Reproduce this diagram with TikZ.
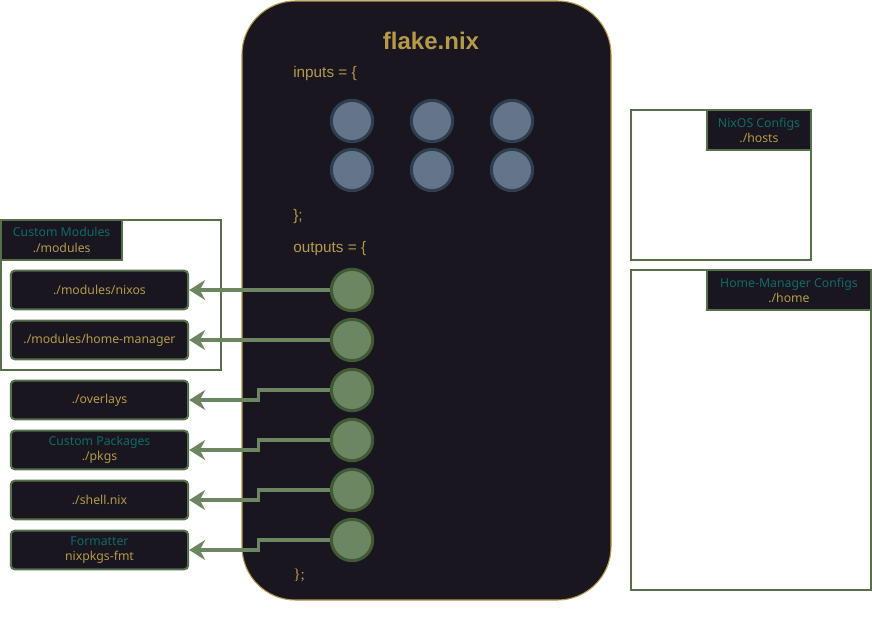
\documentclass[tikz,border=0pt]{standalone}
\usepackage{fontspec}
\setmainfont{Noto Sans}
\newfontfamily\codefont{Liberation Sans}
\newfontfamily\seriffont{Liberation Serif}
\usetikzlibrary{arrows.meta}

\definecolor{nixbg}{HTML}{19161F}
\definecolor{nixgold}{HTML}{B59A4A}
\definecolor{nixteal}{HTML}{0E6B6B}
\definecolor{nixgreen}{HTML}{56704C}
\definecolor{arrowgreen}{HTML}{6B8660}
\definecolor{outdraw}{HTML}{3F5A35}
\definecolor{infill}{HTML}{647489}
\definecolor{indraw}{HTML}{2F3F50}

\begin{document}
\begin{tikzpicture}
[x=0.75pt,y=-0.75pt,
  flakedecorate/.style={draw=nixgold,fill=nixbg,line width=0.8pt,rounded corners=40pt},%
  codedecorate/.style={text=nixgold,inner sep=0pt,anchor=west,font=\codefont\fontsize{11.5}{13}\selectfont},%
  innodedecorate/.style={shape=circle,inner sep=0pt,minimum size=31pt,draw=indraw,fill=infill,line width=2.3pt},%
  outnodedecorate/.style={shape=circle,inner sep=0pt,minimum size=31pt,draw=outdraw,fill=arrowgreen,line width=2.3pt},%
  boxdecorate/.style={draw=nixgreen,fill=nixbg,line width=1.5pt,rounded corners=3pt,text=nixgold,
    minimum width=133pt,minimum height=29pt,inner sep=0pt,align=center,font=\fontsize{9.2}{11.4}\selectfont},%
  groupdecorate/.style={draw=nixgreen,fill=white,line width=1.5pt,inner sep=0pt},%
  headdecorate/.style={draw=nixgreen,fill=nixbg,line width=1.5pt,text=nixgold,minimum height=30pt,
    inner sep=0pt,align=center,font=\fontsize{9.2}{11.4}\selectfont},%
  arrowdecorate/.style={draw=arrowgreen,line width=2.3pt,-{Stealth[length=12pt,width=15pt,inset=4pt]}}]
\useasboundingbox (0,0) rectangle (872,631);

%% the flake itself
\draw[flakedecorate] (242,1) rectangle (611,600);
\node (title) at (431,41) [text=nixgold,font=\codefont\bfseries\fontsize{18}{20}\selectfont] {flake.nix};
\node (inputs) at (293,74) [codedecorate] {inputs = \{};
\node (inputsend) at (293,217) [codedecorate] {\};};
\node (outputs) at (293,249) [codedecorate] {outputs = \{};
\node (outputsend) at (293,575) [codedecorate,font=\seriffont\fontsize{11.5}{13}\selectfont] {\};};

%% inputs
\foreach \nodename/\x/\y in {in1/352/121, in2/432/121, in3/512/121,
  in4/352/170, in5/432/170, in6/512/170}
{
  \node (\nodename) at (\x,\y) [innodedecorate] {};
}

%% groups
\node (modgroup) at (111,295) [groupdecorate,minimum width=165pt,minimum height=112.5pt] {};
\node (modhead) at (modgroup.north west) [headdecorate,anchor=north west,minimum width=91pt]
  {\textcolor{nixteal}{Custom Modules}\\./modules};
\node (hostgroup) at (721,185) [groupdecorate,minimum width=135pt,minimum height=112.5pt] {};
\node (hosthead) at (hostgroup.north east) [headdecorate,anchor=north east,minimum width=78pt]
  {\textcolor{nixteal}{NixOS Configs}\\./hosts};
\node (homegroup) at (751,430) [groupdecorate,minimum width=180pt,minimum height=240pt] {};
\node (homehead) at (homegroup.north east) [headdecorate,anchor=north east,minimum width=123pt]
  {\textcolor{nixteal}{Home-Manager Configs}\\./home};

%% output targets
\node (nixos) at (99.5,290) [boxdecorate] {./modules/nixos};
\node (homemanager) at (99.5,340) [boxdecorate] {./modules/home-manager};
\node (overlays) at (99.5,400) [boxdecorate] {./overlays};
\node (pkgs) at (99.5,450) [boxdecorate] {\textcolor{nixteal}{Custom Packages}\\./pkgs};
\node (shell) at (99.5,500) [boxdecorate] {./shell.nix};
\node (formatter) at (99.5,550) [boxdecorate] {\textcolor{nixteal}{Formatter}\\nixpkgs-fmt};

%% outputs
\foreach \nodename/\y in {out1/290, out2/340, out3/390, out4/440, out5/490, out6/540}
{
  \node (\nodename) at (352,\y) [outnodedecorate] {};
}

%% edges
\draw[arrowdecorate] (out1.west) -- (nixos.east);
\draw[arrowdecorate] (out2.west) -- (homemanager.east);
\foreach \startnode/\endnode in {out3/overlays, out4/pkgs, out5/shell, out6/formatter}
{
  \draw[arrowdecorate] (\startnode.west) -- ++(-71,0) |- (\endnode.east);
}
\end{tikzpicture}
\end{document}
